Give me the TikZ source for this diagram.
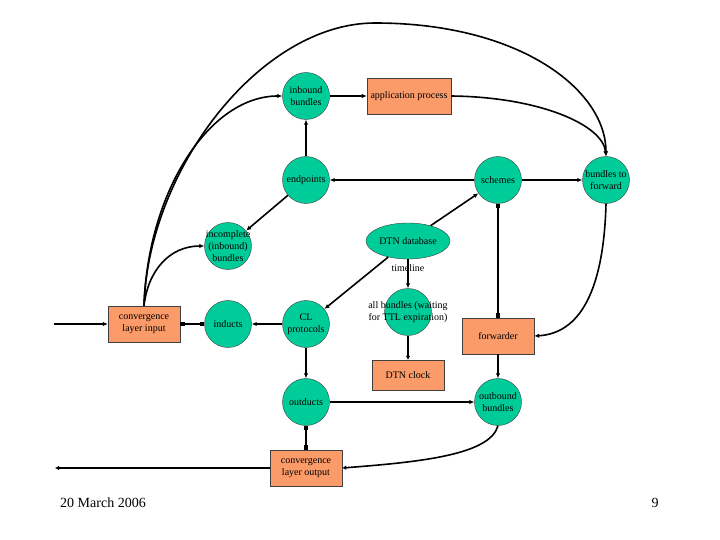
\documentclass[tikz,border=0pt]{standalone}
\usepackage{fontspec}
\setmainfont{Liberation Serif}
\usetikzlibrary{arrows.meta,shapes.geometric}
\definecolor{jade}{RGB}{0,204,153}
\definecolor{salmon}{RGB}{250,155,105}
\tikzset{
  >={Latex[length=5pt,width=4.5pt]},
  proc/.style={circle,draw=black!75,fill=jade,minimum size=47pt,inner sep=0pt,
    label={[align=center,font=\fontsize{10}{12}\selectfont]center:#1}},
  unit/.style={rectangle,draw=black!75,fill=salmon,minimum width=#1,minimum height=36pt,
    inner sep=0pt,align=center,font=\fontsize{10}{12}\selectfont},
  unit/.default=72pt,
  store/.style={ellipse,draw=black!75,fill=jade,minimum width=84pt,minimum height=36pt,
    inner sep=0pt,font=\fontsize{10}{12}\selectfont},
  link/.style={line width=1.6pt},
  sq/.style={{Square[length=4.5pt,width=4.5pt]}-{Square[length=4.5pt,width=4.5pt]}},
  dot/.style={-{Latex[length=4pt,width=4.5pt]}},
  tag/.style={font=\fontsize{10}{12}\selectfont,inner sep=0pt},
}
\begin{document}
\begin{tikzpicture}[x=1pt,y=-1pt]
  \useasboundingbox (0,0) rectangle (720,540);
  \node[proc={inbound\\bundles}] (inb) at (306,96) {};
  \node[unit=84pt] (app) at (409,96) {application process};
  \node[proc={endpoints}] (endp) at (306,180) {};
  \node[proc={schemes}] (sch) at (498,180) {};
  \node[proc={bundles to\\forward}] (btf) at (606,180) {};
  \node[proc={incomplete\\(inbound)\\bundles}] (inc) at (228,246) {};
  \node[store] (db) at (408,241) {DTN database};
  \node[unit] (cli) at (144,324) {convergence\\layer input};
  \node[proc={inducts}] (ind) at (228,324) {};
  \node[proc={CL\\protocols}] (clp) at (306,324) {};
  \node[proc={all bundles (waiting\\for TTL expiration)}] (all) at (408,312) {};
  \node[unit] (fwd) at (498,336) {forwarder};
  \node[unit,minimum height=30pt] (clk) at (408,375) {DTN clock};
  \node[proc={outducts}] (outd) at (306,402) {};
  \node[proc={outbound\\bundles}] (outb) at (498,402) {};
  \node[unit] (clo) at (306,468) {convergence\\layer output};
  \coordinate (src) at (54,324);
  \coordinate (snk) at (55,468);
  \node[font=\fontsize{14}{16}\selectfont] (date) at (103,503) {20 March 2006};
  \node[font=\fontsize{14}{16}\selectfont] (page) at (655,503) {9};

  \draw[link,->] (inb) -- (app);
  \draw[link,->] (app.east) .. controls (540,97) and (603,125) .. (btf.north);
  \draw[link,->] (endp) -- (inb);
  \draw[link,->] (sch) -- (endp);
  \draw[link,->] (sch) -- (btf);
  \draw[link,->] (endp) -- (inc);
  \draw[link,->] (db) -- (sch);
  \draw[link,->] (db) -- (clp);
  \draw[link,->] (db) -- node[tag,pos=0.3] {timeline} (all);
  \draw[link,dot] (all) -- (clk);
  \draw[link,sq] (sch) -- (fwd);
  \draw[link,->] (btf.south) .. controls (604,280) and (585,333) .. (fwd.east);
  \draw[link,->] (fwd) -- (outb);
  \draw[link,->] (outd) -- (outb);
  \draw[link,dot] (outb.south) .. controls (490,455) and (420,462) .. (clo.east);
  \draw[link,sq] (outd) -- (clo);
  \draw[link,->] (clp) -- (ind);
  \draw[link,->] (clp) -- (outd);
  \draw[link,sq] (cli) -- (ind);
  \draw[link,->] (src) -- (cli);
  \draw[link,dot] (clo) -- (snk);
  \draw[link,->] (cli.north) .. controls (148,270) and (170,246) .. (inc.west);
  \draw[link,->] (cli.north) .. controls (148,190) and (210,96) .. (inb.west);
  \draw[link,->] (cli.north) .. controls (148,170) and (260,23) .. (375,23)
    .. controls (520,23) and (606,90) .. (btf.north);
\end{tikzpicture}
\end{document}
